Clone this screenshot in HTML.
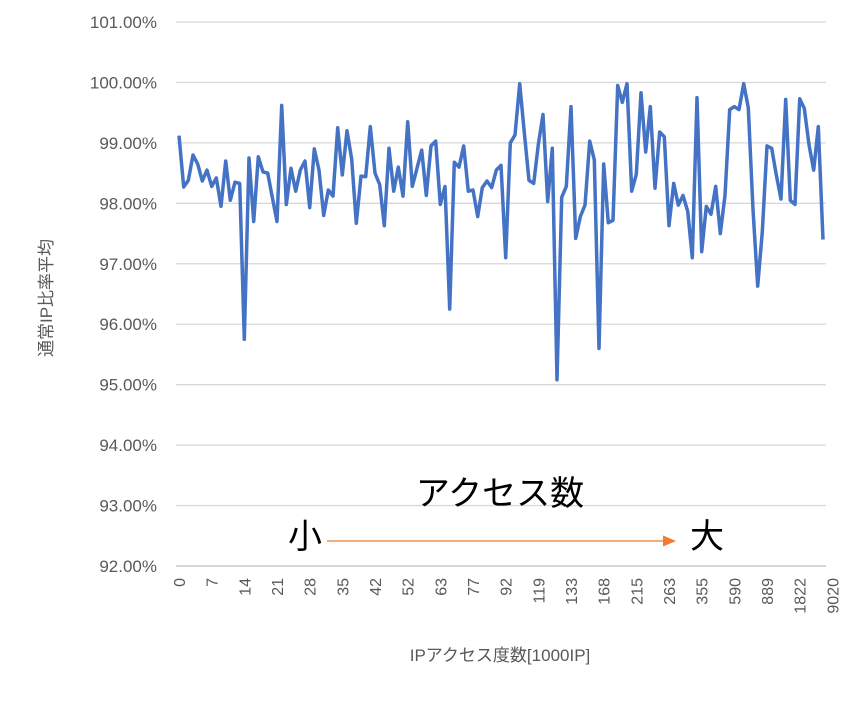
<!DOCTYPE html>
<html><head><meta charset="utf-8"><style>
body{margin:0;background:#fff;}
svg{display:block;font-family:"Liberation Sans","Noto Sans CJK JP",sans-serif;}
</style></head><body>
<svg id="chart" width="847" height="701" xmlns="http://www.w3.org/2000/svg">
<g id="grid"></g>
<g id="yticks"></g>
<g id="xticks"></g>
<path id="line" fill="none" stroke="#4472c4" stroke-width="3.5" stroke-linejoin="round"/>
<text transform="translate(52,298) rotate(-90)" text-anchor="middle" font-size="17" fill="#595959">通常IP比率平均</text>
<text x="500" y="661" text-anchor="middle" font-size="17" fill="#595959">IPアクセス度数[1000IP]</text>
<text x="500" y="505" text-anchor="middle" font-size="34" fill="#000">アクセス数</text>
<text x="305" y="548" text-anchor="middle" font-size="34" fill="#000">小</text>
<text x="707" y="548" text-anchor="middle" font-size="34" fill="#000">大</text>
<line x1="327" y1="541" x2="664" y2="541" stroke="#ed7d31" stroke-width="1.3"/>
<polygon points="676,541 663,535.5 663,546.5" fill="#ed7d31"/>
</svg>
<script>
const values=[99.12,98.27,98.38,98.8,98.65,98.37,98.55,98.28,98.42,97.95,98.7,98.05,98.35,98.33,95.75,98.75,97.7,98.77,98.52,98.5,98.1,97.7,99.62,97.98,98.58,98.2,98.55,98.7,97.93,98.9,98.55,97.8,98.22,98.12,99.25,98.47,99.2,98.73,97.67,98.45,98.44,99.27,98.5,98.31,97.63,98.91,98.2,98.6,98.12,99.35,98.28,98.58,98.88,98.13,98.95,99.03,97.98,98.28,96.25,98.68,98.6,98.95,98.2,98.22,97.78,98.26,98.37,98.26,98.55,98.63,97.1,99.0,99.13,99.98,99.17,98.38,98.33,98.97,99.47,98.03,98.91,95.08,98.1,98.28,99.6,97.42,97.78,97.97,99.03,98.72,95.6,98.65,97.68,97.72,99.95,99.67,99.98,98.2,98.48,99.83,98.85,99.6,98.25,99.18,99.1,97.63,98.33,97.97,98.13,97.87,97.1,99.75,97.2,97.95,97.82,98.28,97.5,98.13,99.55,99.6,99.55,99.98,99.58,97.9,96.63,97.53,98.95,98.91,98.47,98.07,99.72,98.05,97.98,99.73,99.57,98.97,98.55,99.27,97.4];
const xLabels=["0","7","14","21","28","35","42","52","63","77","92","119","133","168","215","263","355","590","889","1822","9020"];
const yTicks=[92,93,94,95,96,97,98,99,100,101];
const NS="http://www.w3.org/2000/svg";
const yMin=92,yMax=101,yTop=22,yBot=566;
function y(v){return yBot-(v-yMin)/(yMax-yMin)*(yBot-yTop);}
const x0=179,x1=823;
function x(i){return x0+i*(x1-x0)/(values.length-1);}
const grid=document.getElementById('grid'),yt=document.getElementById('yticks'),xt=document.getElementById('xticks');
yTicks.forEach(t=>{
  const l=document.createElementNS(NS,'line');
  
  
  l.setAttribute('x1',176);l.setAttribute('x2',826);l.setAttribute('y1',y(t));l.setAttribute('y2',y(t));
  l.setAttribute('stroke',t===yMin?'#bfbfbf':'#d9d9d9');l.setAttribute('stroke-width',1.3);
  grid.appendChild(l);
  const tx=document.createElementNS(NS,'text');
  
  
  tx.setAttribute('x',157);tx.setAttribute('y',y(t)+6);tx.setAttribute('text-anchor','end');
  tx.setAttribute('font-size','17');tx.setAttribute('fill','#595959');
  tx.textContent=t.toFixed(2)+'%';
  yt.appendChild(tx);
});
xLabels.forEach((s,k)=>{
  const tx=document.createElementNS(NS,'text');
  
  
  const xx=x(k*7)+6;
  tx.setAttribute('transform','translate('+xx+',578) rotate(-90)');
  tx.setAttribute('text-anchor','end');tx.setAttribute('font-size','16');tx.setAttribute('fill','#595959');
  tx.textContent=s;
  xt.appendChild(tx);
});
document.getElementById('line').setAttribute('d',values.map((v,i)=>(i?'L':'M')+x(i).toFixed(1)+' '+y(v).toFixed(1)).join(''));
</script>
</body></html>
